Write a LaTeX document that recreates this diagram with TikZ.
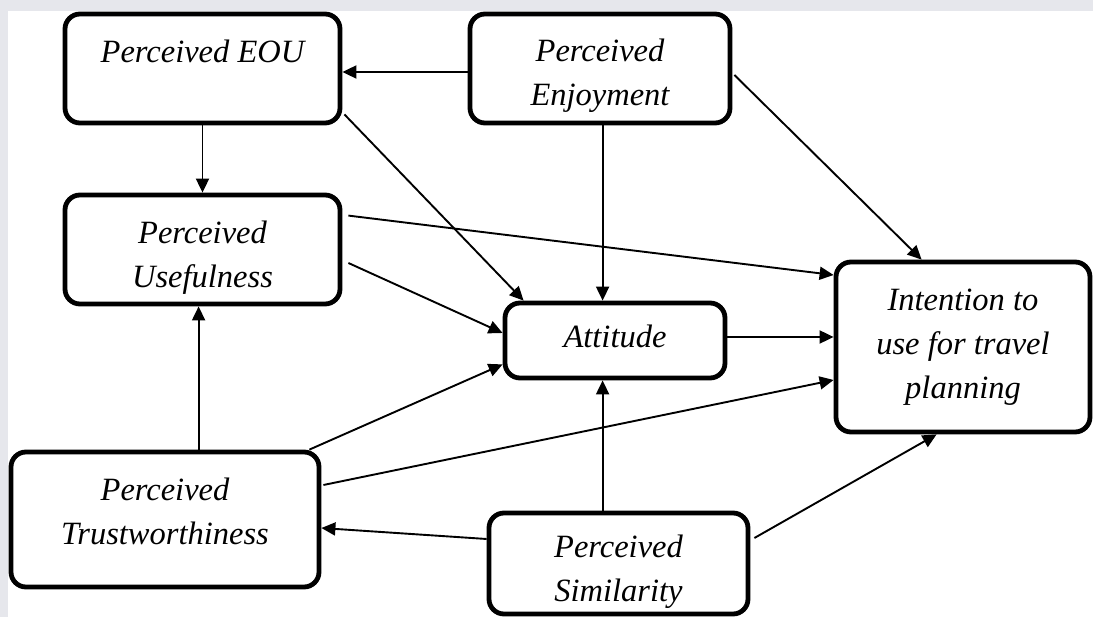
\documentclass[tikz,border=0pt]{standalone}
\usepackage{fontspec}
\setmainfont{Liberation Serif}
\usetikzlibrary{arrows.meta,calc}
\definecolor{edgegray}{HTML}{E6E7EC}
% invisible struts that move a text block inside its box
\newcommand\firstline[1]{\rule{0pt}{#1}}
\newcommand\lastline[1]{\rule[-#1]{0pt}{0pt}}
\begin{document}
\begin{tikzpicture}[x=1pt,y=-1pt,
  box/.style={draw=black,line width=4.8pt,rounded corners=15pt,fill=white,
    align=center,inner sep=0pt,
    font=\fontsize{32.5}{44}\selectfont\itshape},
  arr/.style={draw=black,line width=1.9pt,
    -{Triangle[length=14pt,width=13pt]}}]
  % canvas and the grey margin strips
  \useasboundingbox (0,0) rectangle (1093,617);
  \fill[edgegray] (0,0) rectangle (1093,11);
  \fill[edgegray] (0,0) rectangle (8,617);

  % constructs
  \node[box,minimum width=275pt,minimum height=109pt] (eou) at (202.5,68.5)
    {\firstline{32pt}Perceived EOU\\\mbox{}};
  \node[box,minimum width=260pt,minimum height=109pt] (enj) at (600,68.5)
    {\firstline{38pt}Perceived\\Enjoyment};
  \node[box,minimum width=275pt,minimum height=109pt] (use) at (202.5,249.5)
    {\firstline{38pt}Perceived\\Usefulness};
  \node[box,minimum width=220pt,minimum height=75pt] (att) at (615,340.5)
    {Attitude\lastline{8pt}};
  \node[box,minimum width=254pt,minimum height=170pt] (int) at (963,347)
    {Intention to\\use for travel\\planning};
  \node[box,minimum width=308pt,minimum height=135pt] (tru) at (165,519.5)
    {Perceived\\Trustworthiness\lastline{16pt}};
  \node[box,minimum width=259pt,minimum height=101pt] (sim) at (618.5,563.5)
    {\firstline{40pt}Perceived\\Similarity};

  % paths between constructs
  \draw[arr] ($(enj.west)+(0,3.5)$) -- ($(eou.east)+(0,3.5)$);
  \draw[arr] (eou.south) -- (use.north);
  \draw[arr] ($(eou.south east)+(2,-11)$) -- ($(att.north west)+(21,0)$);
  \draw[arr] ($(enj.south west)+(135,0)$) -- ($(att.north west)+(100,0)$);
  \draw[arr] ($(enj.east)+(2,6.5)$) -- ($(int.north west)+(88,0)$);
  \draw[arr] ($(use.north east)+(6,23)$) -- ($(int.west)+(0,-72)$);
  \draw[arr] ($(use.east)+(6,13.5)$) -- ($(att.west)+(0,-7.5)$);
  \draw[arr] ($(att.east)+(0,-3.5)$) -- ($(int.west)+(0,-10)$);
  \draw[arr] ($(tru.north west)+(190,0)$) -- ($(use.south west)+(136,0)$);
  \draw[arr] ($(tru.north east)+(-12,0)$) -- ($(att.south west)+(0,-16)$);
  \draw[arr] ($(tru.east)+(2,-34.5)$) -- ($(int.west)+(0,33)$);
  \draw[arr] ($(sim.west)+(0,-24.5)$) -- ($(tru.east)+(0,8.5)$);
  \draw[arr] ($(sim.north west)+(116,0)$) -- ($(att.south west)+(100,0)$);
  \draw[arr] ($(sim.east)+(4,-25.5)$) -- ($(int.south west)+(103,0)$);
\end{tikzpicture}
\end{document}
